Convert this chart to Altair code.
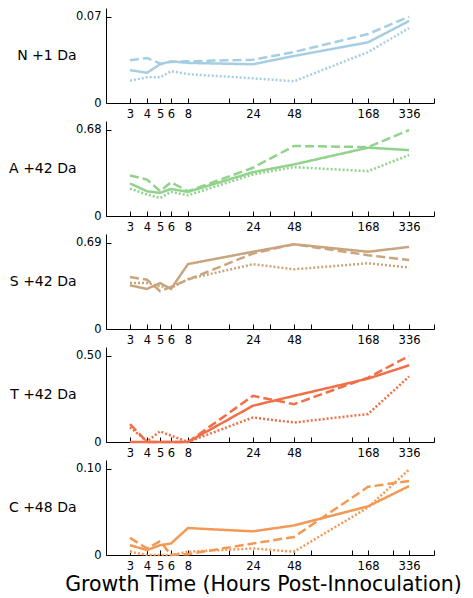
import altair as alt
import pandas as pd

# ---- data -------------------------------------------------------------
times = [3, 4, 5, 6, 8, 24, 48, 168, 336]
x_tick_values = [3, 4, 5, 6, 8, 16, 24, 32, 48, 64, 128, 168, 256, 336, 512]
x_labelled = [3, 4, 5, 6, 8, 24, 48, 168, 336]

panel_names = ["N +1 Da", "A +42 Da", "S +42 Da", "T +42 Da", "C +48 Da"]
panel_max = [0.07, 0.68, 0.69, 0.50, 0.10]
panel_colors = ["#a6cee3", "#91d28c", "#c8a57d", "#ef6f48", "#f29a55"]
series_names = ["Replicate 1", "Replicate 2", "Replicate 3"]

n_rep1 = [0.0266, 0.0245, 0.0314, 0.0338, 0.0325, 0.0314, 0.0381, 0.0492, 0.0665]
n_rep2 = [0.0346, 0.0365, 0.0319, 0.0333, 0.0338, 0.0351, 0.0413, 0.0559, 0.0700]
n_rep3 = [0.0181, 0.0208, 0.0208, 0.0258, 0.0234, 0.0200, 0.0176, 0.0413, 0.0607]

a_rep1 = [0.256, 0.195, 0.182, 0.213, 0.190, 0.345, 0.406, 0.538, 0.519]
a_rep2 = [0.319, 0.287, 0.195, 0.266, 0.195, 0.380, 0.551, 0.543, 0.677]
a_rep3 = [0.216, 0.169, 0.142, 0.190, 0.163, 0.327, 0.385, 0.353, 0.480]

s_rep1 = [0.349, 0.320, 0.367, 0.320, 0.519, 0.617, 0.677, 0.617, 0.656]
s_rep2 = [0.415, 0.394, 0.302, 0.336, 0.394, 0.603, 0.677, 0.590, 0.551]
s_rep3 = [0.367, 0.367, 0.341, 0.328, 0.399, 0.517, 0.477, 0.525, 0.491]

t_rep1 = [0.0, 0.0, 0.0, 0.0, 0.0, 0.210, 0.267, 0.367, 0.444]
t_rep2 = [0.104, 0.0, 0.0, 0.0, 0.0, 0.267, 0.219, 0.373, 0.498]
t_rep3 = [0.085, 0.004, 0.062, 0.037, 0.0, 0.142, 0.113, 0.162, 0.379]

c_rep1 = [0.0114, 0.0057, 0.0114, 0.0133, 0.0312, 0.0274, 0.0342, 0.0563, 0.0798]
c_rep2 = [0.0198, 0.0076, 0.0160, 0.0, 0.0010, 0.0133, 0.0209, 0.0790, 0.0856]
c_rep3 = [0.0038, 0.0, 0.0, 0.0, 0.0038, 0.0076, 0.0038, 0.0551, 0.0989]

panel_series = [
    [n_rep1, n_rep2, n_rep3],
    [a_rep1, a_rep2, a_rep3],
    [s_rep1, s_rep2, s_rep3],
    [t_rep1, t_rep2, t_rep3],
    [c_rep1, c_rep2, c_rep3],
]

x_title = "Growth Time (Hours Post-Innoculation)"

# ---- chart ------------------------------------------------------------
FONT = "DejaVu Sans"
W, H = 328, 95

x_label_expr = (
    "indexof(" + str(x_labelled) + ", datum.value) >= 0 ? '' + datum.value : ''"
)


def make_panel(i, last):
    rows = []
    for sname, vals in zip(series_names, panel_series[i]):
        for t, v in zip(times, vals):
            rows.append({"time": t, "value": v, "series": sname})
    df = pd.DataFrame(rows)

    x_axis_kwargs = dict(
        values=x_tick_values,
        labelExpr=x_label_expr,
        labelOverlap=False,
        labelFlush=False,
        grid=False,
        tickSize=alt.ExprRef(expr="-5"),
        labelPadding=10,
        labelFontSize=11.5,
        labelFont=FONT,
        title=x_title if last else None,
    )
    if last:
        x_axis_kwargs.update(
            titleFontSize=20.5,
            titleFontWeight="normal",
            titlePadding=3,
            titleFont=FONT,
            titleAlign="center",
            titleX=157,
        )

    return (
        alt.Chart(df)
        .mark_line(strokeWidth=2.5, color=panel_colors[i])
        .encode(
            x=alt.X(
                "time:Q",
                scale=alt.Scale(type="log", domain=[2, 512], nice=False),
                axis=alt.Axis(**x_axis_kwargs),
            ),
            y=alt.Y(
                "value:Q",
                scale=alt.Scale(domain=[0, panel_max[i] * 1.1], nice=False),
                axis=alt.Axis(
                    values=[0, panel_max[i]],
                    labelExpr="datum.value == 0 ? '0' : format(datum.value, '.2f')",
                    grid=False,
                    tickSize=alt.ExprRef(expr="-5"),
                    labelPadding=10,
                    labelFontSize=11.5,
                    labelFont=FONT,
                    title=panel_names[i],
                    titleFont=FONT,
                    titleAngle=0,
                    titleAlign="right",
                    titleBaseline="middle",
                    titleX=-30,
                    titleY=H / 2,
                    titleFontSize=14,
                    titleFontWeight="normal",
                ),
            ),
            strokeDash=alt.StrokeDash(
                "series:N",
                scale=alt.Scale(domain=series_names, range=[[1, 0], [9, 4], [2, 2]]),
                legend=None,
            ),
        )
        .properties(width=W, height=H)
    )


panels = [make_panel(i, i == len(panel_names) - 1) for i in range(len(panel_names))]

chart = (
    alt.vconcat(*panels, spacing=18, bounds="flush")
    .configure(padding=0, font=FONT)
    .configure_view(stroke=None)
    .configure_axis(
        grid=False,
        domainColor="black",
        domainWidth=1,
        tickColor="black",
        tickWidth=1,
        labelColor="black",
        titleColor="black",
        labelFont=FONT,
        titleFont=FONT,
    )
)

chart.save("out.html", embed_options={"renderer": "svg", "actions": False})
